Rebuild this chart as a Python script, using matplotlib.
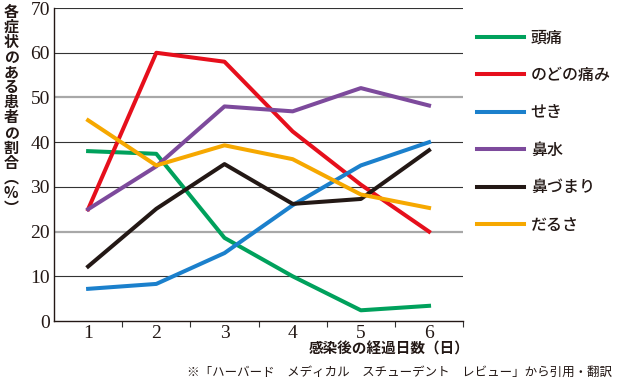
import matplotlib.pyplot as plt

plt.rcParams['font.family'] = ['Noto Sans CJK JP', 'DejaVu Sans']

days = [1, 2, 3, 4, 5, 6]
names = ['頭痛', 'のどの痛み', 'せき', '鼻水', '鼻づまり', 'だるさ']
headache = [38, 37.4, 18.6, 10, 2.4, 3.4]
throat = [25, 60, 58, 42.4, 30.5, 20]
cough = [7.2, 8.3, 15.2, 25.9, 34.8, 40]
runny = [25, 34.6, 48, 46.9, 52.1, 48.2]
stuffy = [12.2, 25.1, 35.1, 26.2, 27.3, 38.2]
fatigue = [44.9, 34.8, 39.3, 36.2, 28.3, 25.3]
series = [headache, throat, cough, runny, stuffy, fatigue]
colors = ['#00a15c', '#e60f1c', '#1b80cc', '#7d4a9c', '#231815', '#f6a800']
yticks = [0, 10, 20, 30, 40, 50, 60, 70]

fig = plt.figure(figsize=(6.18, 3.84), dpi=100)
ax = fig.add_axes([0.0874, 0.164, 0.662, 0.815])

for v in yticks[1:]:
    if v in (20, 50):
        ax.axhline(v, color='#a8a8a8', lw=1.6, zorder=1)
    else:
        ax.axhline(v, color='#333333', lw=0.8, zorder=1)

lines = []
for ys, c, n in zip(series, colors, names):
    l, = ax.plot(days, ys, color=c, lw=2.9, label=n, zorder=3)
    lines.append(l)

ax.set_xlim(0.5, 6.5)
ax.set_ylim(0, 70)
ax.set_yticks(yticks)
ax.set_xticks(days)
ax.set_xticks([1.5, 2.5, 3.5, 4.5, 5.5, 6.5], minor=True)
for s in ['top', 'right']:
    ax.spines[s].set_visible(False)
for s in ['left', 'bottom']:
    ax.spines[s].set_color('#231815')
    ax.spines[s].set_linewidth(1.0)
ax.tick_params(axis='y', length=0, pad=3)
ax.tick_params(axis='x', which='major', length=0, pad=3)
ax.tick_params(axis='x', which='minor', length=4, width=0.8, color='#333333')
for lab in ax.get_xticklabels() + ax.get_yticklabels():
    lab.set_fontfamily('Liberation Serif')
    lab.set_fontsize(14)
    lab.set_color('#231815')

leg = fig.legend(handles=lines, loc='upper left', bbox_to_anchor=(0.762, 0.94),
                 frameon=False, handlelength=2.9, handletextpad=0.45,
                 labelspacing=1.28, borderaxespad=0,
                 prop={'size': 11.5, 'weight': 'medium'})
for t in leg.get_texts():
    t.set_color('#231815')

ylab = '各症状のある患者の割合︵%︶'
fig.text(0.018, 0.99, '\n'.join(ylab), ha='center', va='top', fontsize=10.8,
         fontweight='bold', linespacing=0.93, color='#231815')

fig.text(0.63, 0.092, '感染後の経過日数（日）', ha='center', va='center',
         fontsize=10.5, fontweight='bold', color='#231815')
fig.text(0.99, 0.03, '※「ハーバード　メディカル　スチューデント　レビュー」から引用・翻訳',
         ha='right', va='center', fontsize=9, color='#231815')

fig.savefig('out.png', dpi=100)
